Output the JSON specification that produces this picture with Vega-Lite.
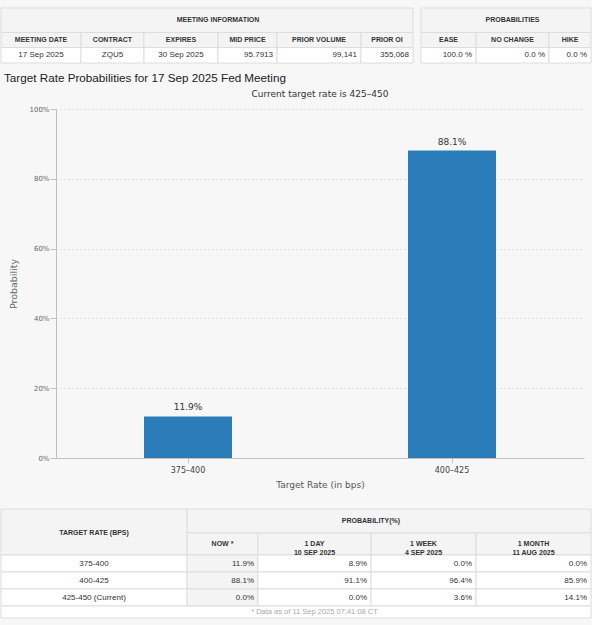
{
  "$schema": "https://vega.github.io/schema/vega-lite/v6.json",
  "background": "#f7f7f7",
  "padding": {"left": 0, "top": 7, "right": 0, "bottom": 8},
  "spacing": 19,
  "config": {
    "view": {"stroke": null},
    "text": {"font": "Liberation Sans", "color": "#333333"}
  },
  "datasets": {
    "meetingInfo": [
      {"r0": 0, "r1": 1, "c0": 0, "c1": 6, "label": "MEETING INFORMATION", "kind": "head"},
      {"r0": 0, "r1": 1, "c0": 7, "c1": 10, "label": "PROBABILITIES", "kind": "head"},
      {"r0": 1, "r1": 2, "c0": 0, "c1": 1, "label": "MEETING DATE", "kind": "head"},
      {"r0": 1, "r1": 2, "c0": 1, "c1": 2, "label": "CONTRACT", "kind": "head"},
      {"r0": 1, "r1": 2, "c0": 2, "c1": 3, "label": "EXPIRES", "kind": "head"},
      {"r0": 1, "r1": 2, "c0": 3, "c1": 4, "label": "MID PRICE", "kind": "head"},
      {"r0": 1, "r1": 2, "c0": 4, "c1": 5, "label": "PRIOR VOLUME", "kind": "head"},
      {"r0": 1, "r1": 2, "c0": 5, "c1": 6, "label": "PRIOR OI", "kind": "head"},
      {"r0": 1, "r1": 2, "c0": 7, "c1": 8, "label": "EASE", "kind": "head"},
      {"r0": 1, "r1": 2, "c0": 8, "c1": 9, "label": "NO CHANGE", "kind": "head"},
      {"r0": 1, "r1": 2, "c0": 9, "c1": 10, "label": "HIKE", "kind": "head"},
      {"r0": 2, "r1": 3, "c0": 0, "c1": 1, "label": "17 Sep 2025", "kind": "data", "num": false},
      {"r0": 2, "r1": 3, "c0": 1, "c1": 2, "label": "ZQU5", "kind": "data", "num": false},
      {"r0": 2, "r1": 3, "c0": 2, "c1": 3, "label": "30 Sep 2025", "kind": "data", "num": false},
      {"r0": 2, "r1": 3, "c0": 3, "c1": 4, "label": "95.7913", "kind": "data", "num": true},
      {"r0": 2, "r1": 3, "c0": 4, "c1": 5, "label": "99,141", "kind": "data", "num": true},
      {"r0": 2, "r1": 3, "c0": 5, "c1": 6, "label": "355,068", "kind": "data", "num": true},
      {"r0": 2, "r1": 3, "c0": 7, "c1": 8, "label": "100.0 %", "kind": "data", "num": true},
      {"r0": 2, "r1": 3, "c0": 8, "c1": 9, "label": "0.0 %", "kind": "data", "num": true},
      {"r0": 2, "r1": 3, "c0": 9, "c1": 10, "label": "0.0 %", "kind": "data", "num": true}
    ],
    "rateProbs": [
      {"rate": "375–400", "probability": 0.119},
      {"rate": "400–425", "probability": 0.881}
    ],
    "probHistory": [
      {"r0": 0, "r1": 2, "c0": 0, "c1": 1, "label": "TARGET RATE (BPS)", "kind": "head"},
      {"r0": 0, "r1": 1, "c0": 1, "c1": 5, "label": "PROBABILITY(%)", "kind": "head"},
      {"r0": 1, "r1": 2, "c0": 1, "c1": 2, "label": "NOW *", "kind": "head"},
      {"r0": 1, "r1": 2, "c0": 2, "c1": 3, "label": ["1 DAY", "10 SEP 2025"], "kind": "head"},
      {"r0": 1, "r1": 2, "c0": 3, "c1": 4, "label": ["1 WEEK", "4 SEP 2025"], "kind": "head"},
      {"r0": 1, "r1": 2, "c0": 4, "c1": 5, "label": ["1 MONTH", "11 AUG 2025"], "kind": "head"},
      {"r0": 2, "r1": 3, "c0": 0, "c1": 1, "label": "375-400", "kind": "data", "num": false},
      {"r0": 2, "r1": 3, "c0": 1, "c1": 2, "label": "11.9%", "kind": "now", "num": true},
      {"r0": 2, "r1": 3, "c0": 2, "c1": 3, "label": "8.9%", "kind": "data", "num": true},
      {"r0": 2, "r1": 3, "c0": 3, "c1": 4, "label": "0.0%", "kind": "data", "num": true},
      {"r0": 2, "r1": 3, "c0": 4, "c1": 5, "label": "0.0%", "kind": "data", "num": true},
      {"r0": 3, "r1": 4, "c0": 0, "c1": 1, "label": "400-425", "kind": "data", "num": false},
      {"r0": 3, "r1": 4, "c0": 1, "c1": 2, "label": "88.1%", "kind": "now", "num": true},
      {"r0": 3, "r1": 4, "c0": 2, "c1": 3, "label": "91.1%", "kind": "data", "num": true},
      {"r0": 3, "r1": 4, "c0": 3, "c1": 4, "label": "96.4%", "kind": "data", "num": true},
      {"r0": 3, "r1": 4, "c0": 4, "c1": 5, "label": "85.9%", "kind": "data", "num": true},
      {"r0": 4, "r1": 5, "c0": 0, "c1": 1, "label": "425-450 (Current)", "kind": "data", "num": false},
      {"r0": 4, "r1": 5, "c0": 1, "c1": 2, "label": "0.0%", "kind": "now", "num": true},
      {"r0": 4, "r1": 5, "c0": 2, "c1": 3, "label": "0.0%", "kind": "data", "num": true},
      {"r0": 4, "r1": 5, "c0": 3, "c1": 4, "label": "3.6%", "kind": "data", "num": true},
      {"r0": 4, "r1": 5, "c0": 4, "c1": 5, "label": "14.1%", "kind": "data", "num": true},
      {"r0": 5, "r1": 6, "c0": 0, "c1": 5, "label": "* Data as of 11 Sep 2025 07:41:08 CT", "kind": "note", "num": false}
    ]
  },
  "vconcat": [
    {
      "spacing": 9,
      "vconcat": [
        {
          "width": 535,
          "height": 55,
          "data": {"name": "meetingInfo"},
          "transform": [
            {"calculate": "(datum.c0 + datum.c1) / 2", "as": "cm"},
            {"calculate": "(datum.r0 + datum.r1) / 2", "as": "rm"}
          ],
          "layer": [
            {
              "mark": {"type": "rect", "stroke": "#dddddd", "strokeWidth": 1},
              "encoding": {
                "x": {"field": "c0", "type": "quantitative", "axis": null,
                      "scale": {"domain": [0,1,2,3,4,5,6,7,8,9,10], "range": [-55,25,88,162,221,305,357,365,420,493,535], "nice": false, "zero": false}},
                "x2": {"field": "c1"},
                "y": {"field": "r0", "type": "quantitative", "axis": null,
                      "scale": {"domain": [0,1,2,3], "range": [0,24.5,39.5,55], "nice": false, "zero": false}},
                "y2": {"field": "r1"},
                "fill": {"field": "kind", "type": "nominal", "legend": null,
                         "scale": {"domain": ["head", "data"], "range": ["#f4f4f4", "#ffffff"]}}
              }
            },
            {
              "transform": [{"filter": "datum.kind == 'head'"}],
              "mark": {"type": "text", "fontSize": 7, "fontWeight": "bold", "color": "#333333"},
              "encoding": {
                "x": {"field": "cm", "type": "quantitative", "axis": null,
                      "scale": {"domain": [0,1,2,3,4,5,6,7,8,9,10], "range": [-55,25,88,162,221,305,357,365,420,493,535], "nice": false, "zero": false}},
                "y": {"field": "rm", "type": "quantitative", "axis": null,
                      "scale": {"domain": [0,1,2,3], "range": [0,24.5,39.5,55], "nice": false, "zero": false}},
                "text": {"field": "label"}
              }
            },
            {
              "transform": [{"filter": "datum.kind == 'data' && !datum.num"}],
              "mark": {"type": "text", "fontSize": 8, "color": "#333333"},
              "encoding": {
                "x": {"field": "cm", "type": "quantitative", "axis": null,
                      "scale": {"domain": [0,1,2,3,4,5,6,7,8,9,10], "range": [-55,25,88,162,221,305,357,365,420,493,535], "nice": false, "zero": false}},
                "y": {"field": "rm", "type": "quantitative", "axis": null,
                      "scale": {"domain": [0,1,2,3], "range": [0,24.5,39.5,55], "nice": false, "zero": false}},
                "text": {"field": "label"}
              }
            },
            {
              "transform": [{"filter": "datum.num"}],
              "mark": {"type": "text", "fontSize": 8, "align": "right", "dx": -4, "color": "#333333"},
              "encoding": {
                "x": {"field": "c1", "type": "quantitative", "axis": null,
                      "scale": {"domain": [0,1,2,3,4,5,6,7,8,9,10], "range": [-55,25,88,162,221,305,357,365,420,493,535], "nice": false, "zero": false}},
                "y": {"field": "rm", "type": "quantitative", "axis": null,
                      "scale": {"domain": [0,1,2,3], "range": [0,24.5,39.5,55], "nice": false, "zero": false}},
                "text": {"field": "label"}
              }
            }
          ]
        },
        {
          "title": {
            "text": "Target Rate Probabilities for 17 Sep 2025 Fed Meeting",
            "anchor": "start",
            "dx": -5,
            "font": "Liberation Sans",
            "fontSize": 11.7,
            "fontWeight": "normal",
            "color": "#222222",
            "offset": 5
          },
          "vconcat": [
            {
              "width": 528,
              "height": 349,
              "title": {
                "text": "Current target rate is 425–450",
                "anchor": "middle",
                "font": "DejaVu Sans",
                "fontSize": 9,
                "fontWeight": "normal",
                "color": "#333333",
                "offset": 6
              },
              "data": {"name": "rateProbs"},
              "encoding": {
                "x": {
                  "field": "rate",
                  "type": "nominal",
                  "sort": null,
                  "scale": {"paddingInner": 0, "paddingOuter": 0},
                  "axis": {
                    "title": "Target Rate (in bps)",
                    "labelAngle": 0,
                    "labelFont": "DejaVu Sans",
                    "labelFontSize": 8,
                    "labelColor": "#444444",
                    "labelPadding": 3,
                    "titleFont": "DejaVu Sans",
                    "titleFontSize": 9,
                    "titleFontWeight": "normal",
                    "titleColor": "#555555",
                    "titlePadding": 6,
                    "domainColor": "#c0c0c0",
                    "tickColor": "#c0c0c0",
                    "tickSize": 5,
                    "grid": false
                  }
                },
                "y": {
                  "field": "probability",
                  "type": "quantitative",
                  "scale": {"domain": [0, 1], "nice": false},
                  "axis": {
                    "title": "Probability",
                    "format": ".0%",
                    "values": [0, 0.2, 0.4, 0.6, 0.8, 1],
                    "labelFont": "DejaVu Sans",
                    "labelFontSize": 7,
                    "labelColor": "#666666",
                    "labelPadding": 1,
                    "titleFont": "DejaVu Sans",
                    "titleFontSize": 9.5,
                    "titleFontWeight": "normal",
                    "titleColor": "#666666",
                    "titlePadding": 10,
                    "domainColor": "#c0c0c0",
                    "tickColor": "#c0c0c0",
                    "tickSize": 6,
                    "gridColor": "#c8c8c8",
                    "gridDash": [1, 3]
                  }
                }
              },
              "layer": [
                {"mark": {"type": "bar", "size": 88, "color": "#2a7db9"}},
                {
                  "mark": {"type": "text", "baseline": "bottom", "dy": -4, "font": "DejaVu Sans", "fontSize": 9, "color": "#333333"},
                  "encoding": {"text": {"field": "probability", "type": "quantitative", "format": ".1%"}}
                }
              ]
            }
          ]
        }
      ]
    },
    {
      "width": 535,
      "height": 109,
      "data": {"name": "probHistory"},
      "transform": [
        {"calculate": "(datum.c0 + datum.c1) / 2", "as": "cm"},
        {"calculate": "(datum.r0 + datum.r1) / 2", "as": "rm"}
      ],
      "layer": [
        {
          "mark": {"type": "rect", "stroke": "#dddddd", "strokeWidth": 1},
          "encoding": {
            "x": {"field": "c0", "type": "quantitative", "axis": null,
                  "scale": {"domain": [0,1,2,3,4,5], "range": [-55,131,202,315,420,535], "nice": false, "zero": false}},
            "x2": {"field": "c1"},
            "y": {"field": "r0", "type": "quantitative", "axis": null,
                  "scale": {"domain": [0,1,2,3,4,5,6], "range": [0,24,46,63,80,97,109], "nice": false, "zero": false}},
            "y2": {"field": "r1"},
            "fill": {"field": "kind", "type": "nominal", "legend": null,
                     "scale": {"domain": ["head", "data", "now", "note"], "range": ["#f4f4f4", "#ffffff", "#fcfcd4", "#ffffff"]}}
          }
        },
        {
          "transform": [{"filter": "datum.kind == 'head'"}],
          "mark": {"type": "text", "fontSize": 7, "fontWeight": "bold", "lineHeight": 8.5, "color": "#333333"},
          "encoding": {
            "x": {"field": "cm", "type": "quantitative", "axis": null,
                  "scale": {"domain": [0,1,2,3,4,5], "range": [-55,131,202,315,420,535], "nice": false, "zero": false}},
            "y": {"field": "rm", "type": "quantitative", "axis": null,
                  "scale": {"domain": [0,1,2,3,4,5,6], "range": [0,24,46,63,80,97,109], "nice": false, "zero": false}},
            "text": {"field": "label"}
          }
        },
        {
          "transform": [{"filter": "datum.kind == 'data' && !datum.num"}],
          "mark": {"type": "text", "fontSize": 8, "color": "#333333"},
          "encoding": {
            "x": {"field": "cm", "type": "quantitative", "axis": null,
                  "scale": {"domain": [0,1,2,3,4,5], "range": [-55,131,202,315,420,535], "nice": false, "zero": false}},
            "y": {"field": "rm", "type": "quantitative", "axis": null,
                  "scale": {"domain": [0,1,2,3,4,5,6], "range": [0,24,46,63,80,97,109], "nice": false, "zero": false}},
            "text": {"field": "label"}
          }
        },
        {
          "transform": [{"filter": "datum.num"}],
          "mark": {"type": "text", "fontSize": 8, "align": "right", "dx": -4, "color": "#333333"},
          "encoding": {
            "x": {"field": "c1", "type": "quantitative", "axis": null,
                  "scale": {"domain": [0,1,2,3,4,5], "range": [-55,131,202,315,420,535], "nice": false, "zero": false}},
            "y": {"field": "rm", "type": "quantitative", "axis": null,
                  "scale": {"domain": [0,1,2,3,4,5,6], "range": [0,24,46,63,80,97,109], "nice": false, "zero": false}},
            "text": {"field": "label"}
          }
        },
        {
          "transform": [{"filter": "datum.kind == 'note'"}],
          "mark": {"type": "text", "fontSize": 7.5, "color": "#aaaaaa"},
          "encoding": {
            "x": {"field": "cm", "type": "quantitative", "axis": null,
                  "scale": {"domain": [0,1,2,3,4,5], "range": [-55,131,202,315,420,535], "nice": false, "zero": false}},
            "y": {"field": "rm", "type": "quantitative", "axis": null,
                  "scale": {"domain": [0,1,2,3,4,5,6], "range": [0,24,46,63,80,97,109], "nice": false, "zero": false}},
            "text": {"field": "label"}
          }
        }
      ]
    }
  ]
}
